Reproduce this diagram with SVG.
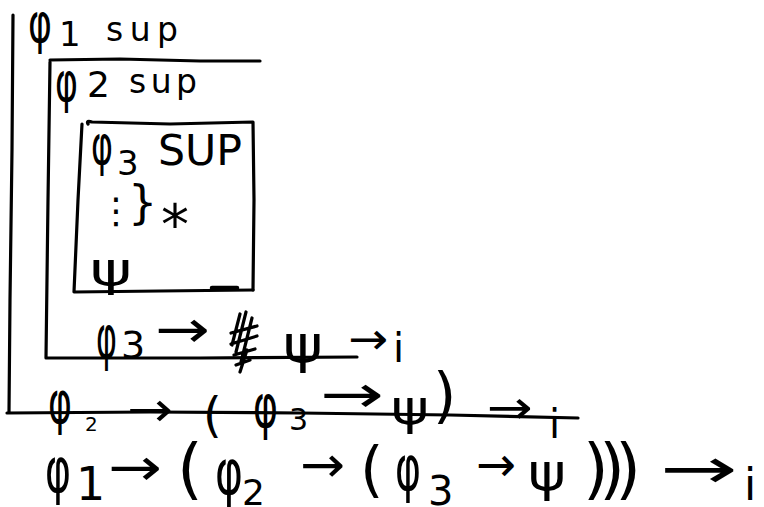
<svg xmlns="http://www.w3.org/2000/svg" width="764" height="507" viewBox="0 0 764 507">
<style>
.ln{fill:none;stroke:#000;stroke-width:3.2;stroke-linecap:round;stroke-linejoin:round}
text{font-family:"DejaVu Sans","Noto Sans",sans-serif;fill:#000}
</style>
<rect width="764" height="507" fill="#fff"/>
<g id="boxes">
<path class="ln" d="M13,15 L12,150 L10,300 L9,412"/>
<path class="ln" d="M7,413 L150,412 L300,413 L450,415 L578,418"/>
<path class="ln" d="M50,60 L120,59 L200,61 L260,61"/>
<path class="ln" d="M50,62 L48,200 L46,358 L200,358 L357,357"/>
<path class="ln" d="M88,124 Q86,120 92,122 L170,124 L253,122 L254,200 L253,290"/>
<path class="ln" d="M82,124 L78,200 L74,292 L160,291 L253,290"/>
<path class="ln" d="M212,288 L237,288" style="stroke-width:4.5"/>
</g>
<g id="n1">
<text x="28" y="42" font-size="56" textLength="24" lengthAdjust="spacingAndGlyphs">φ</text>
<text x="59" y="46" font-size="34">1</text>
<text x="106" y="41" font-size="33" textLength="72" lengthAdjust="spacing">sup</text>
</g>
<g id="n2">
<text x="55" y="101" font-size="56" textLength="23" lengthAdjust="spacingAndGlyphs">φ</text>
<text x="87" y="97" font-size="36">2</text>
<text x="129" y="93" font-size="33" textLength="68" lengthAdjust="spacing">sup</text>
</g>
<g id="n3">
<text x="91" y="164" font-size="56" textLength="22" lengthAdjust="spacingAndGlyphs">φ</text>
<text x="117" y="175" font-size="34">3</text>
<text x="158" y="165" font-size="42" textLength="84" lengthAdjust="spacingAndGlyphs">SUP</text>
<text x="98" y="223" font-size="36">⋮</text>
<text x="128" y="218" font-size="46">}</text>
<text x="161" y="244" font-size="56">*</text>
<text x="90" y="285" font-size="46" textLength="42" lengthAdjust="spacingAndGlyphs">ψ</text>
</g>
<g id="n4">
<text x="96" y="358" font-size="60" textLength="21" lengthAdjust="spacingAndGlyphs">φ</text>
<text x="121" y="358" font-size="38">3</text>
<text x="155" y="347" font-size="52" textLength="55" lengthAdjust="spacingAndGlyphs">→</text>
<path class="ln" d="M240,314 L232,345 M246,312 L236,352 M252,318 L241,362 M231,333 L257,326 M231,344 L257,336 M234,355 L255,349 M247,350 L240,372 M236,365 L250,360"/>
<text x="283" y="362" font-size="52" textLength="40" lengthAdjust="spacingAndGlyphs">ψ</text>
<text x="348" y="354" font-size="44" textLength="40" lengthAdjust="spacingAndGlyphs">→</text>
<text x="393" y="362" font-size="40">i</text>
</g>
<g id="n5">
<text x="48" y="423" font-size="58" textLength="24" lengthAdjust="spacingAndGlyphs">φ</text>
<text x="85" y="431" font-size="20">2</text>
<text x="127" y="426" font-size="48" textLength="46" lengthAdjust="spacingAndGlyphs">→</text>
<text x="203" y="432" font-size="48">(</text>
<text x="253" y="427" font-size="60" textLength="25" lengthAdjust="spacingAndGlyphs">φ</text>
<text x="289" y="430" font-size="30">3</text>
<text x="320" y="412" font-size="52" textLength="64" lengthAdjust="spacingAndGlyphs">→</text>
<text x="391" y="424" font-size="48" textLength="38" lengthAdjust="spacingAndGlyphs">ψ</text>
<text x="433" y="416" font-size="60">)</text>
<text x="487" y="423" font-size="46" textLength="46" lengthAdjust="spacingAndGlyphs">→</text>
<text x="549" y="438" font-size="40">i</text>
</g>
<g id="n6">
<text x="45" y="492" font-size="62" textLength="26" lengthAdjust="spacingAndGlyphs">φ</text>
<text x="76" y="500" font-size="46">1</text>
<text x="108" y="485" font-size="52" textLength="54" lengthAdjust="spacingAndGlyphs">→</text>
<text x="177" y="491" font-size="66">(</text>
<text x="215" y="494" font-size="62" textLength="28" lengthAdjust="spacingAndGlyphs">φ</text>
<text x="242" y="505" font-size="36">2</text>
<text x="300" y="482" font-size="50" textLength="45" lengthAdjust="spacingAndGlyphs">→</text>
<text x="360" y="490" font-size="60">(</text>
<text x="395" y="490" font-size="62" textLength="26" lengthAdjust="spacingAndGlyphs">φ</text>
<text x="428" y="505" font-size="40">3</text>
<text x="476" y="481" font-size="48" textLength="40" lengthAdjust="spacingAndGlyphs">→</text>
<text x="528" y="490" font-size="52" textLength="38" lengthAdjust="spacingAndGlyphs">ψ</text>
<text x="583" y="491" font-size="66" textLength="58" lengthAdjust="spacing">)))</text>
<text x="660" y="488" font-size="56" textLength="78" lengthAdjust="spacingAndGlyphs">→</text>
<text x="744" y="500" font-size="44">i</text>
</g>
</svg>
